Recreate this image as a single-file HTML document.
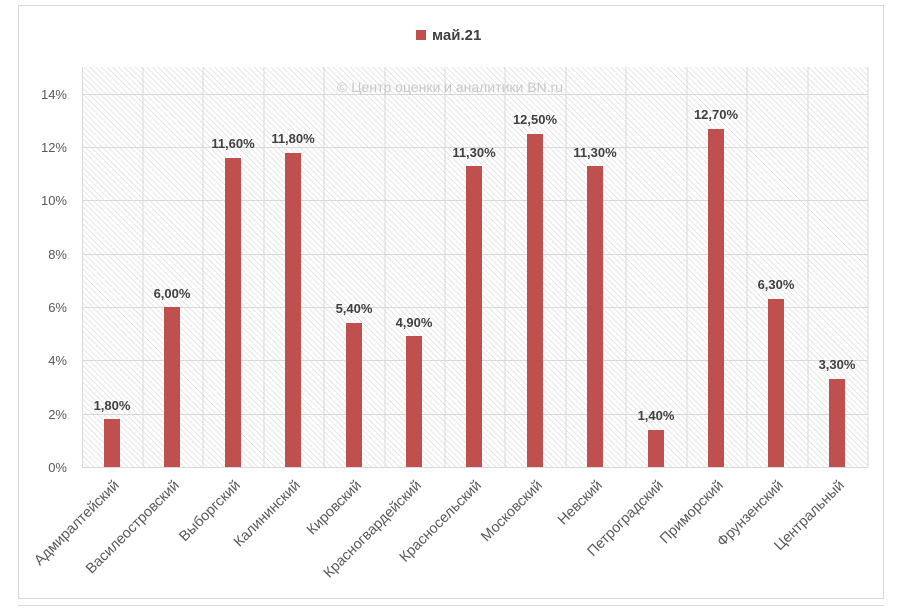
<!DOCTYPE html>
<html><head><meta charset="utf-8"><style>body{margin:0;background:#fff}svg{display:block}</style></head><body>
<svg width="900" height="611" viewBox="0 0 900 611" xmlns="http://www.w3.org/2000/svg" font-family="Liberation Sans, DejaVu Sans, sans-serif">
<defs><pattern id="h" width="4" height="4" patternUnits="userSpaceOnUse" patternTransform="rotate(-45)"><line x1="0" y1="0" x2="0" y2="4" stroke="#cfcfcf" stroke-width="1"/></pattern></defs>
<rect x="18.5" y="5.5" width="865" height="593" fill="#fff" stroke="#d9d9d9"/>
<line x1="18" y1="605.5" x2="884" y2="605.5" stroke="#d9d9d9"/>
<rect x="82" y="67" width="786" height="400" fill="url(#h)"/>
<g stroke="#d9d9d9" stroke-width="1">
<line x1="82" y1="94.5" x2="868" y2="94.5"/><line x1="82" y1="147.5" x2="868" y2="147.5"/><line x1="82" y1="200.5" x2="868" y2="200.5"/><line x1="82" y1="254.5" x2="868" y2="254.5"/><line x1="82" y1="307.5" x2="868" y2="307.5"/><line x1="82" y1="360.5" x2="868" y2="360.5"/><line x1="82" y1="414.5" x2="868" y2="414.5"/><line x1="82" y1="467.5" x2="868" y2="467.5"/>
<line x1="82.5" y1="67" x2="82.5" y2="467"/><line x1="143" y1="67" x2="143" y2="467"/><line x1="203" y1="67" x2="203" y2="467"/><line x1="264" y1="67" x2="264" y2="467"/><line x1="324" y1="67" x2="324" y2="467"/><line x1="385" y1="67" x2="385" y2="467"/><line x1="445" y1="67" x2="445" y2="467"/><line x1="505" y1="67" x2="505" y2="467"/><line x1="566" y1="67" x2="566" y2="467"/><line x1="626" y1="67" x2="626" y2="467"/><line x1="687" y1="67" x2="687" y2="467"/><line x1="747" y1="67" x2="747" y2="467"/><line x1="808" y1="67" x2="808" y2="467"/><line x1="868" y1="67" x2="868" y2="467"/>
</g>
<text x="450" y="92" font-size="14" fill="#c8c8c8" text-anchor="middle">© Центр оценки и аналитики BN.ru</text>
<g font-size="13" fill="#595959" text-anchor="end">
<text x="67" y="99">14%</text><text x="67" y="152">12%</text><text x="67" y="205">10%</text><text x="67" y="259">8%</text><text x="67" y="312">6%</text><text x="67" y="365">4%</text><text x="67" y="419">2%</text><text x="67" y="472">0%</text>
</g>
<rect x="416" y="30" width="10" height="10" fill="#c0504d"/>
<text x="432" y="40" font-size="15" font-weight="bold" fill="#404040">май.21</text>
<g fill="#c0504d">
<rect x="104" y="419" width="16" height="48"/><rect x="164" y="307" width="16" height="160"/><rect x="225" y="158" width="16" height="309"/><rect x="285" y="153" width="16" height="314"/><rect x="346" y="323" width="16" height="144"/><rect x="406" y="336" width="16" height="131"/><rect x="466" y="166" width="16" height="301"/><rect x="527" y="134" width="16" height="333"/><rect x="587" y="166" width="16" height="301"/><rect x="648" y="430" width="16" height="37"/><rect x="708" y="129" width="16" height="338"/><rect x="768" y="299" width="16" height="168"/><rect x="829" y="379" width="16" height="88"/>
</g>
<g font-size="13" font-weight="bold" fill="#404040" text-anchor="middle">
<text x="112" y="410">1,80%</text><text x="172" y="298">6,00%</text><text x="233" y="148">11,60%</text><text x="293" y="143">11,80%</text><text x="354" y="313">5,40%</text><text x="414" y="327">4,90%</text><text x="474" y="157">11,30%</text><text x="535" y="124">12,50%</text><text x="595" y="157">11,30%</text><text x="656" y="420">1,40%</text><text x="716" y="119">12,70%</text><text x="776" y="289">6,30%</text><text x="837" y="369">3,30%</text>
</g>
<g font-size="14.5" fill="#595959" text-anchor="end">
<text transform="translate(120,486) rotate(-45)">Адмиралтейский</text>
<text transform="translate(180,486) rotate(-45)">Василеостровский</text>
<text transform="translate(241,486) rotate(-45)">Выборгский</text>
<text transform="translate(301,486) rotate(-45)">Калининский</text>
<text transform="translate(362,486) rotate(-45)">Кировский</text>
<text transform="translate(422,486) rotate(-45)">Красногвардейский</text>
<text transform="translate(482,486) rotate(-45)">Красносельский</text>
<text transform="translate(543,486) rotate(-45)">Московский</text>
<text transform="translate(603,486) rotate(-45)">Невский</text>
<text transform="translate(664,486) rotate(-45)">Петроградский</text>
<text transform="translate(724,486) rotate(-45)">Приморский</text>
<text transform="translate(784,486) rotate(-45)">Фрунзенский</text>
<text transform="translate(845,486) rotate(-45)">Центральный</text>
</g>
</svg>
</body></html>
